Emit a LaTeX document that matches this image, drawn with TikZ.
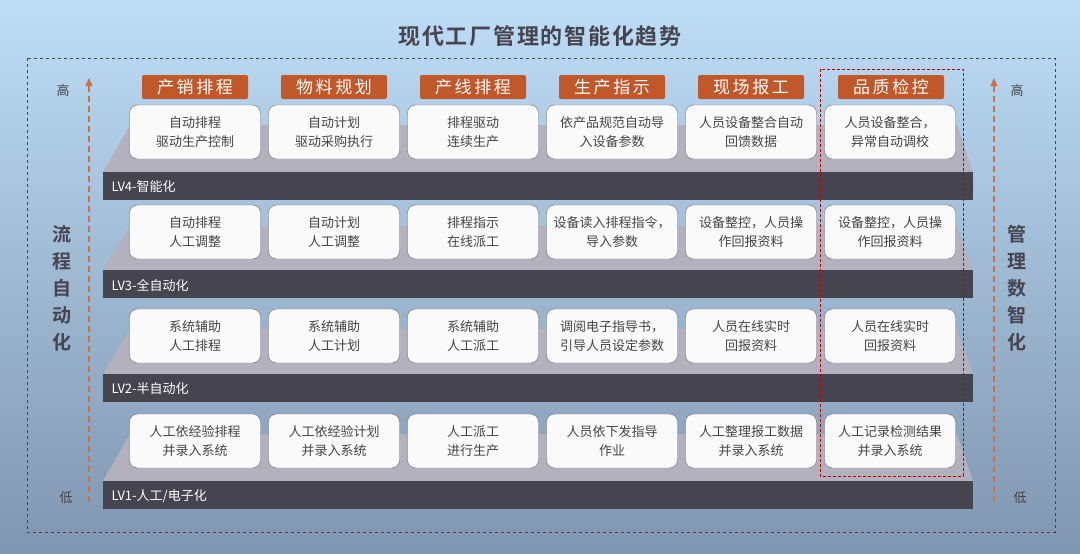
\documentclass[tikz,border=0pt]{standalone}
\usepackage{fontspec}
\setmainfont{Noto Sans CJK SC}
\newfontfamily\cjkbold{Noto Sans CJK SC Bold}
\usetikzlibrary{arrows.meta}
\definecolor{tagorange}{HTML}{C0582A}
\definecolor{bardark}{HTML}{45444F}
\definecolor{plategray}{HTML}{B2B1BD}
\definecolor{boxline}{HTML}{6A6A78}
\definecolor{txtgray}{HTML}{444444}
\definecolor{bgtop}{HTML}{BEDDF6}
\definecolor{bgbot}{HTML}{8095B0}
\tikzset{
  tagbox/.style={fill=tagorange, rounded corners=2pt, minimum width=106pt, minimum height=24pt,
    text=white, font=\fontsize{17}{17}\selectfont\addfontfeature{LetterSpace=15}, inner sep=0pt},
  cellbox/.style={draw=boxline, fill=white!96!gray, rounded corners=8pt, minimum width=131pt,
    minimum height=54pt, align=center, text=txtgray, font=\fontsize{13}{19}\selectfont, inner sep=0pt},
  lvlabel/.style={anchor=west, text=white, font=\fontsize{13}{13}\selectfont},
  sidetext/.style={text=txtgray, font=\fontsize{13}{13}\selectfont},
  bigside/.style={text=bardark, align=center, font=\cjkbold\fontsize{19}{27}\selectfont},
  axisline/.style={tagorange!85!white, dash pattern=on 6pt off 4pt, line width=1.2pt, -{Triangle[length=8pt,width=7pt]}},
}
\begin{document}
\begin{tikzpicture}[x=1pt,y=-1pt]
  \shade[top color=bgtop, bottom color=bgbot] (0,0) rectangle (1080,554);
  \useasboundingbox (0,0) rectangle (1080,554);
  \node (title) at (540,36) {\cjkbold\fontsize{22}{22}\selectfont\addfontfeature{LetterSpace=8}\color{bardark}现代工厂管理的智能化趋势};
  \draw[dashed, bardark, thick] (27,58) rectangle (1055,532);
  % platforms and level bars
  \foreach \t/\b/\lv in {125/172/{LV4-智能化}, 226/270/{LV3-全自动化}, 329/374/{LV2-半自动化}, 434/481/{LV1-人工/电子化}}{
    \fill[plategray] (130,\t) -- (957,\t) -- (973,\b) -- (103,\b) -- cycle;
    \fill[bardark] (103,\b) rectangle (973,\b+28);
    \node[lvlabel] at (108,\b+15) {\lv};
  }
  % header tags
  \foreach \x/\name/\txt in {195/tA/产销排程, 334/tB/物料规划, 473/tC/产线排程, 612/tD/生产指示, 751/tE/现场报工, 891/tF/品质检控}
    \node[tagbox] (\name) at (\x,87) {\txt};
  % level 4
  \node[cellbox] (a4) at (195,132) {自动排程\\驱动生产控制};
  \node[cellbox] (b4) at (334,132) {自动计划\\驱动采购执行};
  \node[cellbox] (c4) at (473,132) {排程驱动\\连续生产};
  \node[cellbox] (d4) at (612,132) {依产品规范自动导\\入设备参数};
  \node[cellbox] (e4) at (751,132) {人员设备整合自动\\回馈数据};
  \node[cellbox] (f4) at (890,132) {人员设备整合，\\异常自动调校};
  % level 3
  \node[cellbox] (a3) at (195,232) {自动排程\\人工调整};
  \node[cellbox] (b3) at (334,232) {自动计划\\人工调整};
  \node[cellbox] (c3) at (473,232) {排程指示\\在线派工};
  \node[cellbox] (d3) at (612,232) {设备读入排程指令，\\导入参数};
  \node[cellbox] (e3) at (751,232) {设备整控，人员操\\作回报资料};
  \node[cellbox] (f3) at (890,232) {设备整控，人员操\\作回报资料};
  % level 2
  \node[cellbox] (a2) at (195,336) {系统辅助\\人工排程};
  \node[cellbox] (b2) at (334,336) {系统辅助\\人工计划};
  \node[cellbox] (c2) at (473,336) {系统辅助\\人工派工};
  \node[cellbox] (d2) at (612,336) {调阅电子指导书，\\引导人员设定参数};
  \node[cellbox] (e2) at (751,336) {人员在线实时\\回报资料};
  \node[cellbox] (f2) at (890,336) {人员在线实时\\回报资料};
  % level 1
  \node[cellbox] (a1) at (195,441) {人工依经验排程\\并录入系统};
  \node[cellbox] (b1) at (334,441) {人工依经验计划\\并录入系统};
  \node[cellbox] (c1) at (473,441) {人工派工\\进行生产};
  \node[cellbox] (d1) at (612,441) {人员依下发指导\\作业};
  \node[cellbox] (e1) at (751,441) {人工整理报工数据\\并录入系统};
  \node[cellbox] (f1) at (890,441) {人工记录检测结果\\并录入系统};
  % highlight
  \draw[red!75!black, densely dashed] (820,69) rectangle (963,476);
  % side axes
  \coordinate (lb) at (89,502); \coordinate (lt) at (89,78);
  \coordinate (rb) at (994,502); \coordinate (rt) at (994,78);
  \draw[axisline] (lb) -- (lt);
  \draw[axisline] (rb) -- (rt);
  \node[sidetext] (lhigh) at (63,91) {高};
  \node[sidetext] (llow) at (66,498) {低};
  \node[sidetext] (rhigh) at (1017,91) {高};
  \node[sidetext] (rlow) at (1020,498) {低};
  \node[bigside] (lside) at (62,288) {流\\程\\自\\动\\化};
  \node[bigside] (rside) at (1017,288) {管\\理\\数\\智\\化};
\end{tikzpicture}
\end{document}
